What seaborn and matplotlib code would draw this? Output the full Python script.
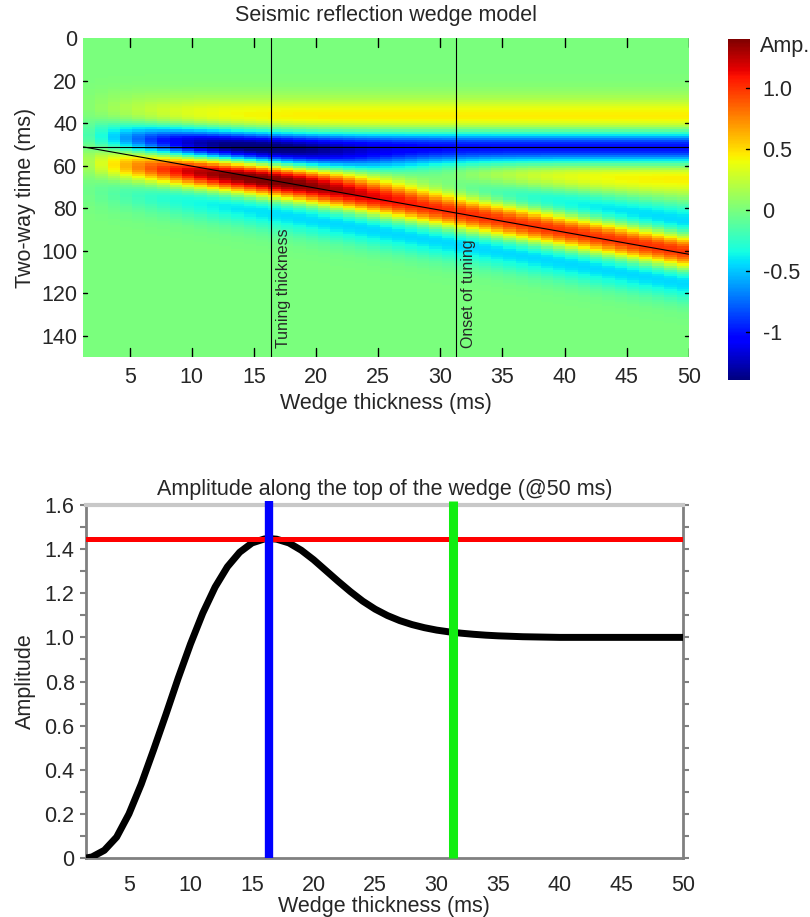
import numpy as np
import pandas as pd
import matplotlib
matplotlib.use("Agg")
import matplotlib.pyplot as plt
from matplotlib.ticker import MultipleLocator
import seaborn as sns

sns.set_style("white")
plt.rcParams['font.family'] = ['Liberation Sans', 'DejaVu Sans']

# ---- wedge model (all times in ms) ----
top_ms = 51
n_samples = 150
trace_thickness = list(range(1, 50))          # wedge thickness of each trace
x_first, x_last = 1.25, 50.0                  # thickness range shown on the x axis
# wavelet read off the thick end of the wedge, lag 0..40 ms
wavelet_amp = [1.000, 0.980, 0.922, 0.829, 0.707, 0.564, 0.409, 0.250, 0.095, -0.047,
               -0.172, -0.274, -0.353, -0.406, -0.437, -0.446, -0.438, -0.415, -0.383,
               -0.343, -0.301, -0.258, -0.216, -0.178, -0.143, -0.113, -0.088, -0.067,
               -0.051, -0.037, -0.027, -0.019, -0.014, -0.009, -0.006, -0.004, -0.003,
               -0.002, -0.001, -0.001, 0.000]
wedge_line_x = [1.25, 50.0]
wedge_line_t = [51.2, 101.7]
tuning_ms = 16.4
onset_ms = 31.3

# ---- amplitude along the top of the wedge ----
amp_thickness = [1.5, 2, 3, 4, 5, 6, 7, 8, 9, 10, 11, 12, 13, 14, 15, 16, 16.4,
                 17, 18, 19, 20, 21, 22, 23, 24, 25, 26, 27, 28, 29, 30, 31, 32,
                 33, 34, 35, 36, 37, 38, 39, 40, 42, 44, 46, 48, 50]
amp_top = [0.000, 0.005, 0.035, 0.095, 0.200, 0.335, 0.490, 0.650, 0.815, 0.970,
           1.110, 1.228, 1.320, 1.386, 1.428, 1.446, 1.448,
           1.445, 1.428, 1.395, 1.352, 1.303, 1.254, 1.207, 1.164, 1.128, 1.099,
           1.076, 1.058, 1.044, 1.033, 1.025, 1.019, 1.014, 1.010, 1.007, 1.005,
           1.003, 1.002, 1.001, 1.000, 1.000, 1.000, 1.000, 1.000, 1.000]
tuning_amp = 1.448

# build the synthetic section from the wavelet
w = np.zeros(n_samples + 80)
w[:len(wavelet_amp)] = wavelet_amp
t = np.arange(n_samples)[:, None]
h = np.array(trace_thickness)[None, :]
section = -w[np.abs(t - top_ms)] + w[np.abs(t - top_ms - h)]
df = pd.DataFrame(section, index=np.arange(n_samples), columns=trace_thickness)

dx = (x_last - x_first) / len(trace_thickness)
def xpos(v):
    return (np.asarray(v, dtype=float) - x_first) / dx

fs = 15.5
fig = plt.figure(figsize=(8.1, 9.17), dpi=100)
ax1 = fig.add_axes([0.1025, 0.6107, 0.748, 0.3479])
cax = fig.add_axes([0.899, 0.5856, 0.027, 0.372])
ax2 = fig.add_axes([0.106, 0.0643, 0.737, 0.3850])

###############################################################################
# top: wedge section
sns.heatmap(df, ax=ax1, cmap='jet', vmin=-1.39, vmax=1.40, cbar_ax=cax,
            xticklabels=False, yticklabels=False)
ax1.set_xlim(0, len(trace_thickness))
ax1.set_ylim(n_samples, 0)
xt = list(range(5, 55, 5))
ax1.set_xticks(xpos(xt))
ax1.set_xticklabels([str(v) for v in xt], fontsize=fs)
yt = list(range(0, 150, 20))
ax1.set_yticks(yt)
ax1.set_yticklabels([str(v) for v in yt], fontsize=fs)
ax1.tick_params(axis='x', length=0, pad=7)
ax1.tick_params(axis='y', length=0, pad=4)
# inward tick marks (matlab look), drawn on top of the mesh
xtr = ax1.get_xaxis_transform()
ytr = ax1.get_yaxis_transform()
for p in xpos(xt):
    ax1.plot([p, p], [0, 0.028], transform=xtr, color='k', lw=1, zorder=6)
    ax1.plot([p, p], [0.972, 1], transform=xtr, color='k', lw=1, zorder=6)
for p in yt[1:]:
    ax1.plot([0, 0.007], [p, p], transform=ytr, color='k', lw=1, zorder=6)
    ax1.plot([0.993, 1], [p, p], transform=ytr, color='k', lw=1, zorder=6)
ax1.axhline(51.2, color='k', lw=0.8)
ax1.plot(xpos(wedge_line_x), wedge_line_t, color='k', lw=0.8)
ax1.axvline(xpos(tuning_ms), color='k', lw=0.8)
ax1.axvline(xpos(onset_ms), color='k', lw=0.8)
ax1.text(xpos(tuning_ms) + 0.35, 146, 'Tuning thickness', rotation=90, fontsize=11.5,
         ha='left', va='bottom')
ax1.text(xpos(onset_ms) + 0.35, 146, 'Onset of tuning', rotation=90, fontsize=11.5,
         ha='left', va='bottom')
ax1.set_title('Seismic reflection wedge model', fontsize=fs, pad=12)
ax1.set_xlabel('Wedge thickness (ms)', fontsize=fs, labelpad=4)
ax1.set_ylabel('Two-way time (ms)', fontsize=fs, labelpad=4)

cbar = ax1.collections[0].colorbar
cb_ticks = [1.0, 0.5, 0, -0.5, -1]
cbar.set_ticks(cb_ticks)
cbar.set_ticklabels(['1.0', '0.5', '0', '-0.5', '-1'])
cbar.outline.set_visible(False)
cax.tick_params(length=0, labelsize=fs, pad=9)
for v in cb_ticks:
    cax.plot([0.82, 1], [v, v], transform=cax.get_yaxis_transform(), color='k',
             lw=1, zorder=6)
fig.text(0.938, 0.949, 'Amp.', fontsize=fs, va='center', ha='left')

###############################################################################
# bottom: amplitude along the top of the wedge
sns.lineplot(x=amp_thickness, y=amp_top, ax=ax2, color='k', linewidth=5, zorder=3,
             solid_joinstyle='round', solid_capstyle='round')
ax2.axhline(tuning_amp, color='#ff0000', lw=3.6, zorder=4)
ax2.axvline(tuning_ms, color='#0000ff', lw=6, zorder=5, ymax=1.01, clip_on=False,
            solid_capstyle='butt')
ax2.axvline(onset_ms, color='#11ee11', lw=6.5, zorder=5, ymax=1.01, clip_on=False,
            solid_capstyle='butt')
ax2.set_xlim(1.5, 50)
ax2.set_ylim(0, 1.6)
ax2.set_xticks(xt)
ax2.set_xticklabels([str(v) for v in xt], fontsize=fs)
yt2 = [0, 0.2, 0.4, 0.6, 0.8, 1.0, 1.2, 1.4, 1.6]
ax2.set_yticks(yt2)
ax2.set_yticklabels(['0'] + ['%.1f' % v for v in yt2[1:]], fontsize=fs)
ax2.yaxis.set_minor_locator(MultipleLocator(0.1))
ax2.tick_params(axis='x', length=0, pad=12)
ax2.tick_params(axis='y', which='both', direction='out', left=True, right=True,
                length=4, width=1.5, color='#808080', pad=4)
for side in ['left', 'bottom', 'right']:
    ax2.spines[side].set_color('#808080')
    ax2.spines[side].set_linewidth(2)
ax2.spines['top'].set_color('#c8c8c8')
ax2.spines['top'].set_linewidth(3)
ax2.set_title('Amplitude along the top of the wedge (@50 ms)', fontsize=fs, pad=7)
ax2.set_xlabel('Wedge thickness (ms)', fontsize=fs, labelpad=0)
ax2.set_ylabel('Amplitude', fontsize=fs, labelpad=6)

fig.savefig('out.png', dpi=100)
